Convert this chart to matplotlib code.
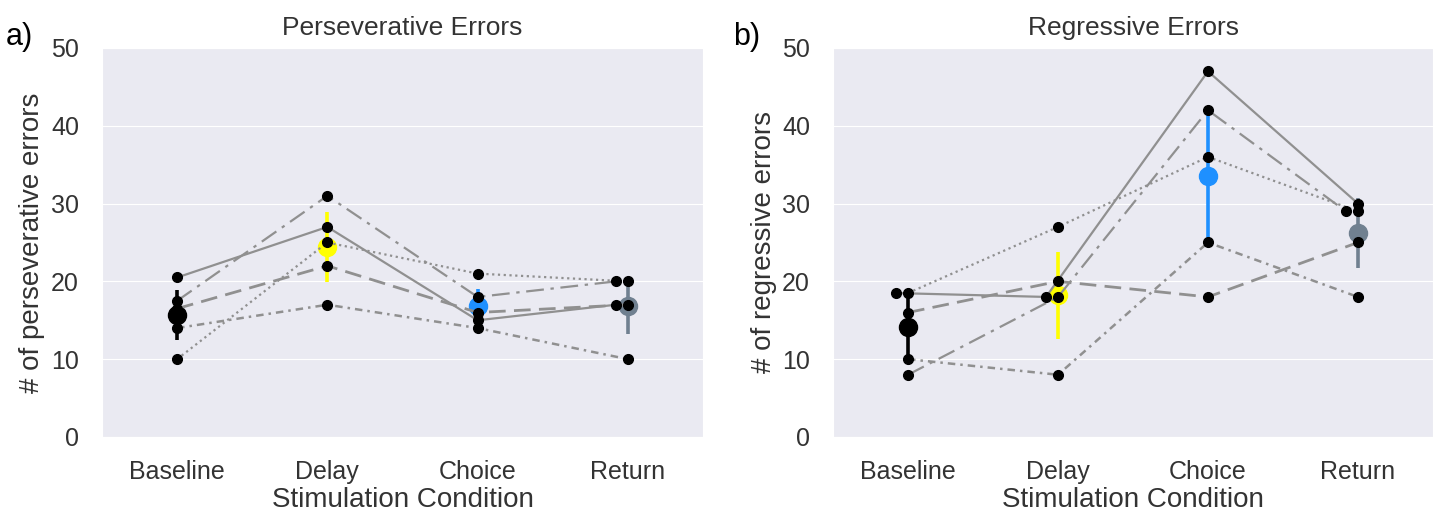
import numpy as np
import matplotlib
matplotlib.use("Agg")
import matplotlib.pyplot as plt
import seaborn as sns

# ── data ─────────────────────────────────────────────────────────────────────
conditions = ["Baseline", "Delay", "Choice", "Return"]

# one row per animal/subject, one column per condition
persev = {
    "s1": [20.5, 27, 15, 17],
    "s2": [17.5, 31, 18, 20],
    "s3": [16.5, 22, 16, 17],
    "s4": [14, 17, 14, 10],
    "s5": [10, 25, 21, 20],
}
persev_mean = [15.7, 24.4, 16.8, 16.8]
persev_err = [3.25, 4.5, 2.2, 3.6]

regress = {
    "s1": [18.5, 18, 47, 30],
    "s2": [8, 18, 42, 29],
    "s3": [16, 20, 18, 25],
    "s4": [10, 8, 25, 18],
    "s5": [18.5, 27, 36, 29],
}
regress_mean = [14.2, 18.2, 33.6, 26.2]
regress_err = [3.7, 5.6, 8.6, 4.5]

# ── style ────────────────────────────────────────────────────────────────────
sns.set_style("darkgrid")
plt.rcParams["font.family"] = ["Liberation Sans", "DejaVu Sans"]
TXT = "#333333"
MEAN_COL = ["black", "#ffff00", "#1e90ff", "#708090"]
LS = {"s1": "-", "s2": (0, (8, 3, 1.5, 3)), "s3": (0, (6, 3)),
      "s4": (0, (3, 2, 1, 2)), "s5": (0, (1, 1.6))}
LW = {"s1": 1.6, "s2": 1.6, "s3": 2.0, "s4": 1.8, "s5": 1.6}


def offsets(subj):
    # nudge repeated values at the same condition so both dots are visible
    keys = list(subj)
    off = {k: np.zeros(len(conditions)) for k in keys}
    for c in range(len(conditions)):
        vals = [subj[k][c] for k in keys]
        for i, k in enumerate(keys):
            if vals[i] in vals[i + 1:]:
                off[k][c] = -0.08
    return off


def panel(ax, subj, mean, err, title, ylabel):
    x = np.arange(len(conditions))
    for i in range(len(conditions)):
        ax.errorbar(x[i], mean[i], yerr=err[i], fmt="o", ms=13, color=MEAN_COL[i],
                    elinewidth=2.6, capsize=0, zorder=2)
    off = offsets(subj)
    for k, v in subj.items():
        ax.plot(x + off[k], v, color="#909090", ls=LS[k], lw=LW[k], zorder=3)
        ax.plot(x + off[k], v, "o", color="black", ms=7, zorder=4)
    ax.set_xlim(-0.5, 3.5); ax.set_ylim(0, 50)
    ax.set_yticks(range(0, 51, 10))
    ax.set_xticks(x); ax.set_xticklabels(conditions)
    ax.grid(axis="x", visible=False)
    ax.tick_params(labelsize=18, colors=TXT, pad=13)
    ax.set_title(title, fontsize=19, color=TXT, pad=9)
    ax.set_xlabel("Stimulation Condition", fontsize=20, color=TXT, labelpad=2)
    ax.set_ylabel(ylabel, fontsize=20, color=TXT, labelpad=4)


fig = plt.figure(figsize=(14.38, 5.15), dpi=100)
axa = fig.add_axes([0.0709, 0.1515, 0.418, 0.7553])
axb = fig.add_axes([0.5793, 0.1515, 0.4172, 0.7553])
panel(axa, persev, persev_mean, persev_err, "Perseverative Errors", "# of perseverative errors")
panel(axb, regress, regress_mean, regress_err, "Regressive Errors", "# of regressive errors")
fig.text(0.004, 0.912, "a)", fontsize=22, color="black")
fig.text(0.510, 0.912, "b)", fontsize=22, color="black")
fig.savefig("out.png", dpi=100)
